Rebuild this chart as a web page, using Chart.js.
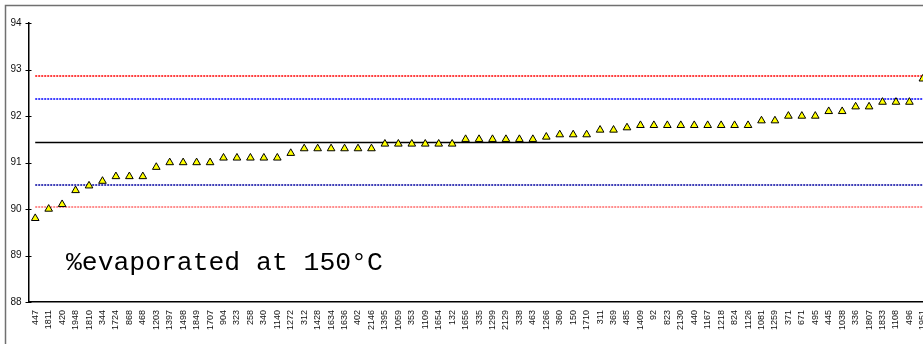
<!DOCTYPE html>
<html lang="en">
 <head>
  <meta charset="UTF-8" />
  <title>%evaporated at 150°C</title>
  <style>
   * {
    padding: 0;
    margin: 0;
    box-sizing: border-box;
   }
   html,
   body {
    width: 923px;
    height: 344px;
    overflow: hidden;
    background: #ffffff;
   }
   .container {
    position: relative;
    width: 935px;
    height: 344px;
   }
  </style>
 </head>
 <body>
  <div class="container">
   <canvas id="chart"></canvas>
  </div>

  <script src="https://cdn.jsdelivr.net/npm/chart.js@4.4.1/dist/chart.umd.min.js"></script>
  <script>
   // Sample ids along the category axis
   const sampleIds = [
    '447', '1811', '420', '1948', '1810', '344', '1724', '868', '468', '1203',
    '1397', '1498', '1849', '1707', '904', '323', '258', '340', '1140', '1272',
    '312', '1428', '1634', '1636', '402', '2146', '1395', '1059', '353', '1109',
    '1654', '132', '1656', '335', '1299', '2129', '338', '463', '1266', '360',
    '150', '1710', '311', '369', '485', '1409', '92', '823', '2130', '440',
    '1167', '1218', '824', '1126', '1081', '1259', '371', '671', '495', '445',
    '1038', '336', '1807', '1833', '1108', '496', '1951'
   ]

   // % evaporated at 150 °C
   const evaporated = [
    89.8, 90.0, 90.1, 90.4, 90.5, 90.6, 90.7, 90.7, 90.7, 90.9,
    91.0, 91.0, 91.0, 91.0, 91.1, 91.1, 91.1, 91.1, 91.1, 91.2,
    91.3, 91.3, 91.3, 91.3, 91.3, 91.3, 91.4, 91.4, 91.4, 91.4,
    91.4, 91.4, 91.5, 91.5, 91.5, 91.5, 91.5, 91.5, 91.55, 91.6,
    91.6, 91.6, 91.7, 91.7, 91.75, 91.8, 91.8, 91.8, 91.8, 91.8,
    91.8, 91.8, 91.8, 91.8, 91.9, 91.9, 92.0, 92.0, 92.0, 92.1,
    92.1, 92.2, 92.2, 92.3, 92.3, 92.3, 92.8
   ]

   // reference levels (mean, +-1 and +-2 limits)
   const refLevels = [92.85, 92.37, 91.44, 90.51, 90.05]
   const refColors = ['#ff0000', '#0000ff', '#000000', '#0000a0', '#ff6a6a']
   const refDashes = [[2, 1], [2, 1], [], [2, 1], [2, 1]]

   const yTicks = [88, 89, 90, 91, 92, 93, 94]

   const frameAndLines = {
    id: 'frameAndLines',
    beforeDatasetsDraw(chart) {
     const { ctx, scales } = chart
     const x = scales.x
     const y = scales.y
     const x0 = x.getPixelForValue(0)
     const x1 = x.getPixelForValue(sampleIds.length - 1)
     ctx.save()
     refLevels.forEach((lvl, i) => {
      const solid = refDashes[i].length === 0
      const py = Math.round(y.getPixelForValue(lvl)) + (solid ? 0.5 : 0)
      ctx.beginPath()
      ctx.strokeStyle = refColors[i]
      ctx.lineWidth = solid ? 1.4 : 1.6
      ctx.setLineDash(refDashes[i])
      ctx.moveTo(x0, py)
      ctx.lineTo(x1 + 8, py)
      ctx.stroke()
     })
     ctx.restore()
    },
    afterDraw(chart) {
     const { ctx, scales, chartArea } = chart
     const y = scales.y
     ctx.save()
     // cross tick marks on the value axis
     ctx.strokeStyle = '#000'
     ctx.lineWidth = 1
     yTicks.forEach(t => {
      const py = Math.round(y.getPixelForValue(t)) + 0.5
      ctx.beginPath()
      ctx.moveTo(chartArea.left - 3, py)
      ctx.lineTo(chartArea.left + 3, py)
      ctx.stroke()
     })
     // chart frame
     ctx.strokeStyle = '#707070'
     ctx.lineWidth = 1.5
     ctx.beginPath()
     ctx.moveTo(5.5, 344)
     ctx.lineTo(5.5, 5.5)
     ctx.lineTo(chart.width, 5.5)
     ctx.stroke()
     // label inside the plot
     ctx.fillStyle = '#000'
     ctx.font = '26.4px "Liberation Mono", "Courier New", monospace'
     ctx.textBaseline = 'alphabetic'
     ctx.fillText('%evaporated at 150°C', 66, 269.5)
     ctx.restore()
    }
   }

   new Chart(document.getElementById('chart'), {
    type: 'line',
    plugins: [frameAndLines],
    data: {
     labels: sampleIds,
     datasets: [
      {
       data: evaporated,
       showLine: false,
       pointStyle: 'triangle',
       pointRadius: 4.4,
       pointHoverRadius: 4.4,
       pointBackgroundColor: '#ffff00',
       pointBorderColor: '#000000',
       pointBorderWidth: 1
      }
     ]
    },
    options: {
     responsive: true,
     maintainAspectRatio: false,
     animation: false,
     layout: { padding: { left: 6.5, top: 23, right: 0, bottom: 0 } },
     plugins: {
      legend: { display: false },
      tooltip: { enabled: false }
     },
     scales: {
      x: {
       offset: true,
       grid: { display: false, drawTicks: false },
       border: { display: true, color: '#000', width: 1.5 },
       afterFit: s => {
        s.height = 42
        s.paddingLeft = 0
        s.paddingRight = 0
       },
       ticks: {
        autoSkip: false,
        minRotation: 90,
        maxRotation: 90,
        padding: 8,
        color: '#111',
        font: { family: 'Liberation Sans, Arial, sans-serif', size: 9 }
       }
      },
      y: {
       min: 88,
       max: 94,
       grid: { display: false, drawTicks: false },
       border: { display: true, color: '#000', width: 1.5 },
       afterFit: s => {
        s.width = 22
       },
       ticks: {
        stepSize: 1,
        padding: 7,
        color: '#111',
        font: { family: 'Liberation Sans, Arial, sans-serif', size: 10 }
       }
      }
     }
    }
   })
  </script>
 </body>
</html>
